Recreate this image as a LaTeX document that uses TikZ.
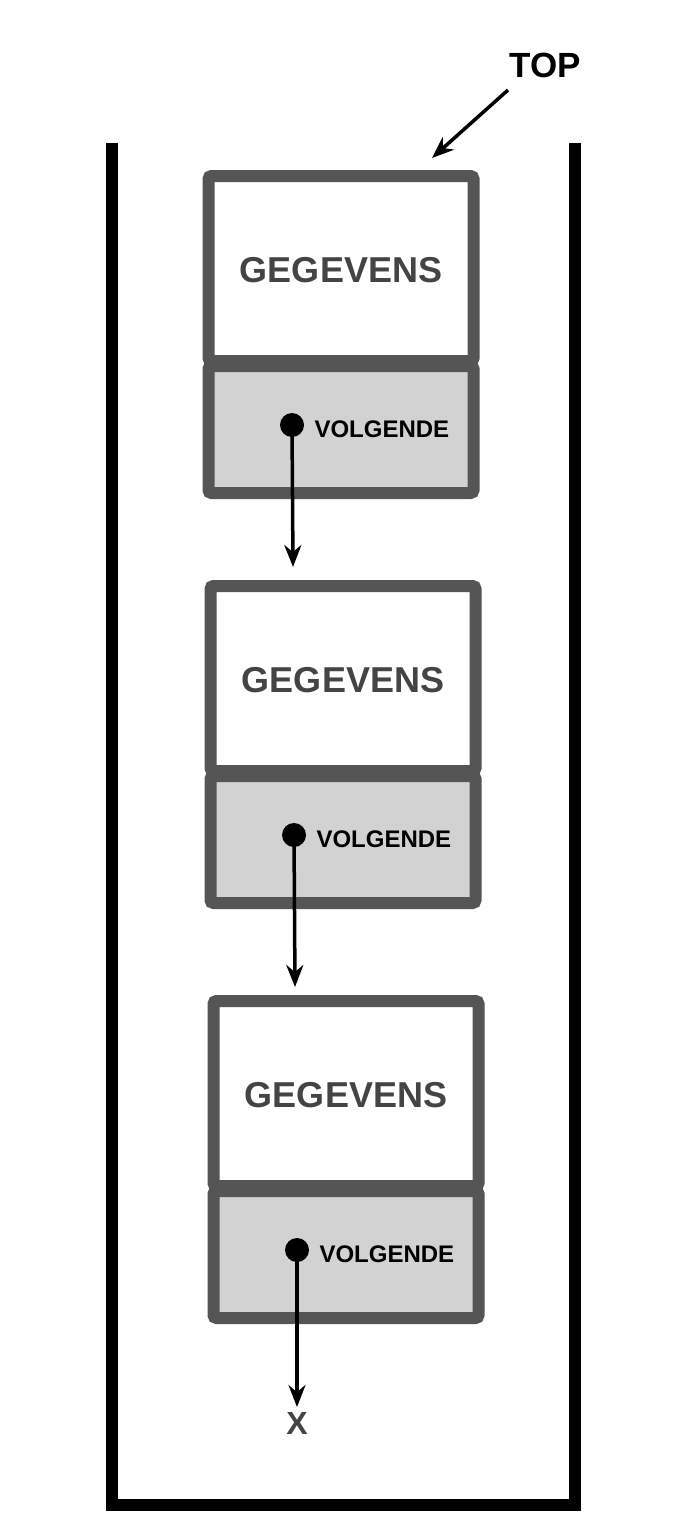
\documentclass[tikz,border=0pt]{standalone}
\usepackage{fontspec}
\setmainfont{Liberation Sans}
\usetikzlibrary{positioning,arrows.meta}
\definecolor{rand}{HTML}{555555}
\definecolor{vak}{HTML}{D2D2D2}
\definecolor{tekst}{HTML}{444444}
\tikzset{
  data/.style={draw=rand, line width=12pt, fill=white, rounded corners=3pt, minimum width=265pt, minimum height=185pt, inner sep=0pt},
  volg/.style={draw=rand, line width=12pt, fill=vak, rounded corners=3pt, minimum width=265pt, minimum height=127pt, inner sep=0pt},
  dot/.style={circle, fill=black, minimum size=24pt, inner sep=0pt},
  pijl/.style={-{Stealth[length=22pt,width=17pt]}, line width=3.5pt},
}
\begin{document}
\begin{tikzpicture}[x=1pt,y=-1pt]
\useasboundingbox (0,0) rectangle (688,1536);
% Stapel
\draw[line width=12pt] (112,143) -- (112,1505) -- (575,1505) -- (575,143);
% Top
\node[font=\bfseries\fontsize{35}{40}\selectfont] (top) at (545,65) {TOP};
\coordinate (topstart) at (508,90);
\coordinate (topend) at (432,158);
\draw[pijl] (topstart) -- (topend);
% Knopen
\foreach \i/\x/\y in {1/341/170, 2/343/580, 3/346/995}{
  \node[data, anchor=north] (d\i) at (\x,\y) {};
  \node[volg, anchor=north] (v\i) at (\x,\y+190) {};
  \node[font=\bfseries\fontsize{36}{40}\selectfont, text=tekst] (g\i) at (\x,\y+100) {GEGEVENS};
  \node[dot] (p\i) at (\x-49,\y+255) {};
  \node[font=\bfseries\fontsize{24}{28}\selectfont, anchor=west] (l\i) at (\x-30,\y+259) {VOLGENDE};
}
\coordinate (e1) at (293,567);
\coordinate (e2) at (295,987);
\coordinate (e3) at (297,1407);
\draw[pijl] (p1.center) -- (e1);
\draw[pijl] (p2.center) -- (e2);
\draw[pijl] (p3.center) -- (e3);
\node[font=\bfseries\fontsize{32}{36}\selectfont, text=tekst, below=2pt of e3] (x) {X};
\end{tikzpicture}
\end{document}
